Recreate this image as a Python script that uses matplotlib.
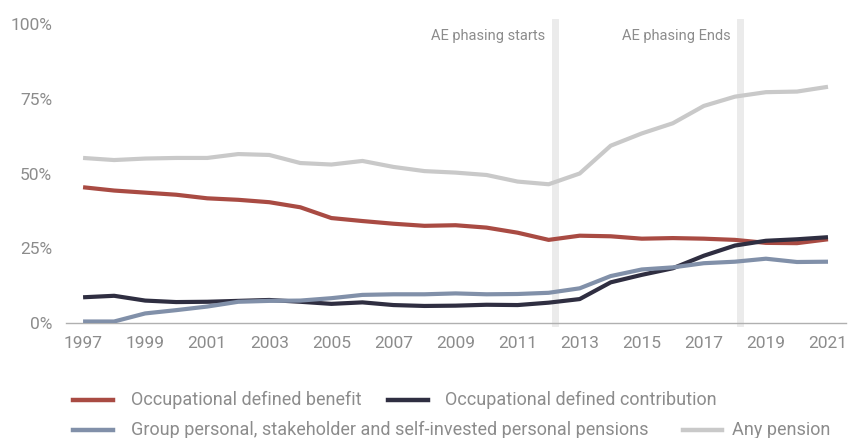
import matplotlib.pyplot as plt
from matplotlib.lines import Line2D
import numpy as np

years = list(range(1997, 2022))

# share of employees with each pension type (%)
db = [45.4, 44.3, 43.6, 42.9, 41.7, 41.2, 40.4, 38.7, 35.1, 34.1, 33.2, 32.5,
      32.7, 31.9, 30.2, 27.8, 29.2, 29.0, 28.2, 28.4, 28.2, 27.8, 26.8, 26.7, 28.0]
dc = [8.6, 9.1, 7.5, 7.0, 7.1, 7.4, 7.7, 7.1, 6.4, 6.9, 6.0, 5.7,
      5.8, 6.1, 6.0, 6.8, 8.0, 13.6, 16.1, 18.3, 22.5, 25.9, 27.5, 28.0, 28.7]
gpp = [0.5, 0.5, 3.2, 4.3, 5.5, 7.1, 7.4, 7.5, 8.3, 9.4, 9.6, 9.6,
       9.9, 9.6, 9.7, 10.1, 11.6, 15.7, 17.9, 18.6, 20.0, 20.5, 21.5, 20.4, 20.5]
anyp = [55.2, 54.5, 55.0, 55.2, 55.2, 56.5, 56.2, 53.5, 53.0, 54.2, 52.2, 50.8,
        50.3, 49.5, 47.3, 46.4, 50.0, 59.3, 63.4, 66.8, 72.6, 75.7, 77.2, 77.4, 79.0]

labels = ['Occupational defined benefit', 'Occupational defined contribution',
          'Group personal, stakeholder and self-invested personal pensions', 'Any pension']
colors = ['#a94b43', '#2f2e41', '#8190a9', '#c9c9c9']

events = [2012.2, 2018.15]
event_labels = ['AE phasing starts', 'AE phasing Ends']

txt = '#8c8c8c'
plt.rcParams['font.family'] = ['Roboto', 'DejaVu Sans']

fig = plt.figure(figsize=(8.5, 4.38), dpi=100)
ax = fig.add_axes([66 / 850, 1 - 323 / 438, 780 / 850, 299 / 438])

for x, lab in zip(events, event_labels):
    ax.axvline(x, ymin=0, ymax=1.007, color='#ebebeb', lw=5, zorder=1, clip_on=False)
    ax.text(x - 0.3, 96, lab, ha='right', va='center', fontsize=10.5, color=txt)

for series, c in zip([db, dc, gpp, anyp], colors):
    ax.plot(years, series, color=c, lw=3, zorder=3, solid_capstyle='butt')

ax.set_xlim(1996.45, 2021.58)
ax.set_ylim(0, 100)
ax.set_xticks(years[::2])
ax.set_yticks([0, 25, 50, 75, 100])
ax.set_yticklabels(['0%', '25%', '50%', '75%', '100%'])
ax.tick_params(length=0, labelsize=12.5, labelcolor=txt)
ax.tick_params(axis='y', pad=10)
ax.tick_params(axis='x', pad=9)
for s in ['top', 'right', 'left']:
    ax.spines[s].set_visible(False)
ax.spines['bottom'].set_color('#b0b0b0')
ax.spines['bottom'].set_linewidth(1)

# legend drawn by hand to match the irregular layout
leg = [(73, 113, 131, 400, 0), (388, 428, 445, 400, 1),
       (73, 113, 131, 430, 2), (683, 722, 732, 430, 3)]
for x0, x1, tx, y, i in leg:
    yf = 1 - y / 438
    fig.add_artist(Line2D([x0 / 850, x1 / 850], [yf, yf], color=colors[i], lw=3.2))
    fig.text(tx / 850, yf, labels[i], ha='left', va='center', fontsize=13,
             color=txt, family=['Roboto', 'DejaVu Sans'])

fig.savefig('out.png', dpi=100)
